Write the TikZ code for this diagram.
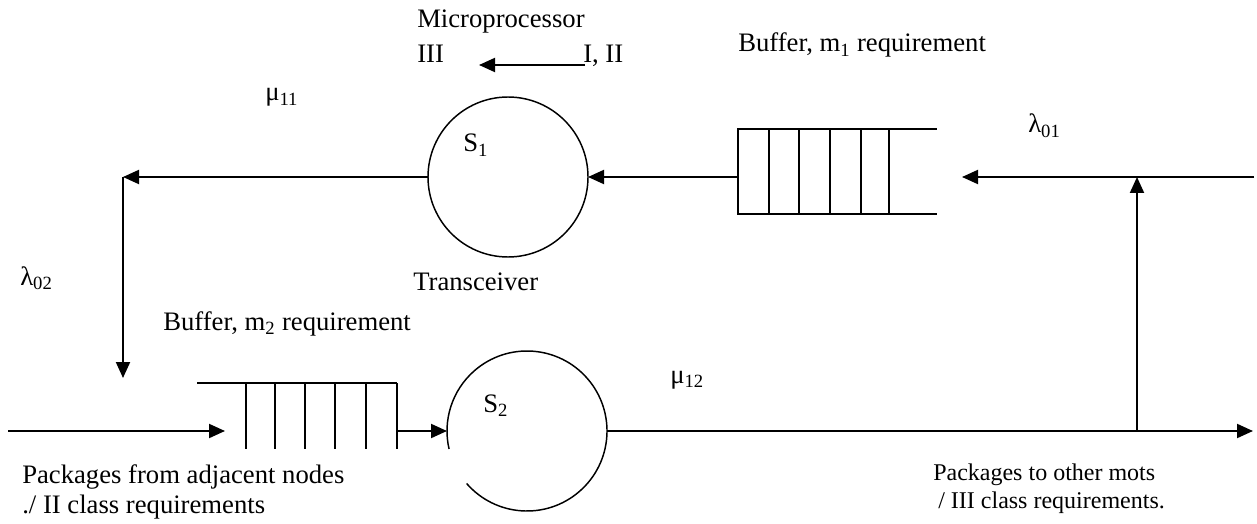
\documentclass[tikz,border=0pt]{standalone}
\usepackage{fontspec}
\setmainfont{Liberation Serif}
\usetikzlibrary{arrows.meta}

\begin{document}
\begin{tikzpicture}[x=0.75pt,y=-0.75pt,
  line/.style={line width=1.5pt},
  arr/.style={line, -{Triangle[length=12pt,width=10.5pt]}},
  server/.style={circle, minimum size=120pt, inner sep=0pt, outer sep=0pt},
  lbl/.style={anchor=base west, inner sep=0pt, font=\fontsize{20pt}{24pt}\selectfont},
  small/.style={anchor=base west, inner sep=0pt, font=\fontsize{18pt}{22pt}\selectfont}]
\useasboundingbox (0,0) rectangle (1257,524);

% servers
\node[server, draw, line width=1.1pt] (s1) at (508,177) {};
\node[server] (s2) at (527,431) {};
\draw[line width=1.1pt] (s2.221) arc[start angle=221, end angle=553, radius=60pt];

% buffer of the first server
\node[draw, line, rectangle, minimum width=113.25pt, minimum height=63.75pt,
      anchor=north west, inner sep=0pt, outer sep=0pt] (buf1) at (738,129) {};
\foreach \xx in {769,799,830,861} \draw[line] (\xx,129) -- (\xx,214);
\coordinate (buf1top) at (937,129);
\coordinate (buf1bot) at (937,214);
\draw[line] (buf1.north east) -- (buf1top);
\draw[line] (buf1.south east) -- (buf1bot);
\coordinate (buf1out) at (buf1.west |- s1.east);

% buffer of the second server (open at the bottom)
\coordinate (buf2l) at (197,383);
\coordinate (buf2r) at (397,383);
\draw[line] (buf2l) -- (buf2r);
\foreach \xx in {246,275,305,335,366,397} \draw[line] (\xx,383) -- (\xx,449);
\coordinate (buf2out) at (buf2r |- s2.west);

% flows
\coordinate (inA) at (8,431);
\coordinate (inB) at (225,431);
\draw[arr] (inA) -- (inB);
\draw[arr] (buf2out) -- (s2.west);

\coordinate (corner) at (123,177);
\coordinate (drop) at (123,378);
\draw[arr] (s1.west) -- (corner);
\draw[arr] (corner) -- (drop);

\draw[arr] (buf1out) -- (s1.east);

\coordinate (rin) at (1254,177);
\coordinate (rtip) at (962,177);
\draw[arr] (rin) -- (rtip);

\coordinate (outEnd) at (1253,431);
\coordinate (tap) at (1137,431);
\coordinate (tapTip) at (1137,177);
\draw[arr] (s2.east) -- (outEnd);
\draw[arr] (tap) -- (tapTip);

% microprocessor
\node[lbl] (mp) at (417,28) {Microprocessor};
\node[lbl] (c3) at (417,63) {III};
\node[lbl] (c12) at (583,63) {I, II};
\coordinate (mpA) at (585,65);
\coordinate (mpB) at (479,65);
\draw[arr] (mpA) -- (mpB);

% labels
\node[lbl] (mu11) at (265,101) {μ\textsubscript{11}};
\node[lbl] (s1l) at (463,152) {S\textsubscript{1}};
\node[lbl] (trx) at (413,291) {Transceiver};
\node[lbl] (b1l) at (738,52) {Buffer, m\textsubscript{1} requirement};
\node[lbl] (l01) at (1028,133) {λ\textsubscript{01}};
\node[lbl] (l02) at (20,285) {λ\textsubscript{02}};
\node[lbl] (b2l) at (163,330) {Buffer, m\textsubscript{2} requirement};
\node[lbl] (s2l) at (483,412) {S\textsubscript{2}};
\node[lbl] (mu12) at (670,383) {μ\textsubscript{12}};
\node[lbl] (inl1) at (22,483) {Packages from adjacent nodes};
\node[lbl] (inl2) at (22,513) {./ II class requirements};
\node[small] (outl1) at (933,480) {Packages to other mots};
\node[small] (outl2) at (938,508) {/ III class requirements.};
\end{tikzpicture}
\end{document}
